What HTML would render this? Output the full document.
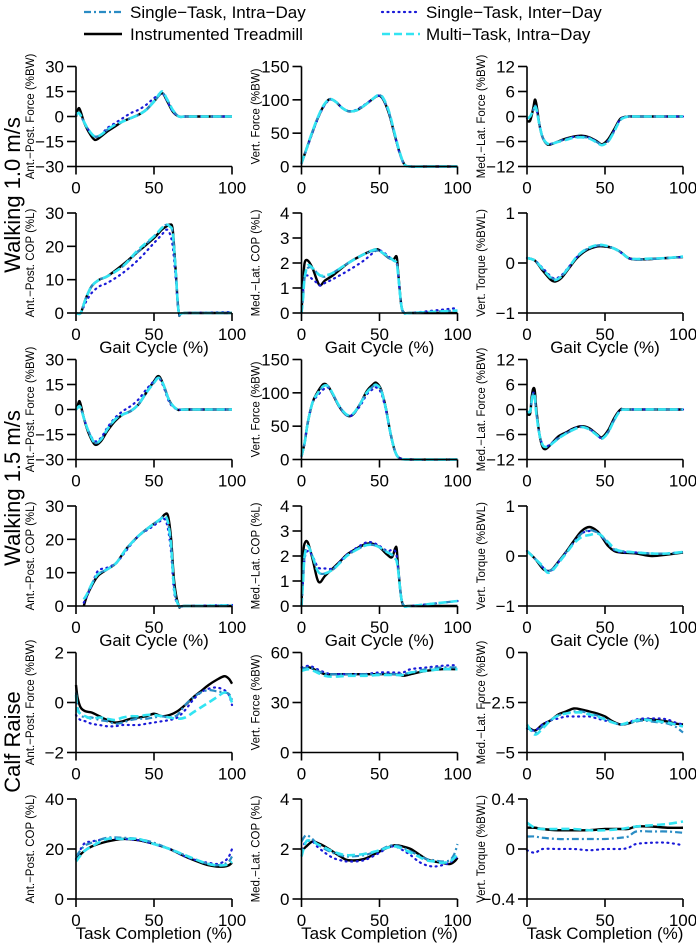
<!DOCTYPE html>
<html><head><meta charset="utf-8"><style>
html,body{margin:0;padding:0;background:#fff}
svg{display:block;font-family:"Liberation Sans",Arial,sans-serif}
</style></head><body>
<svg id="fig" width="696" height="943" viewBox="0 0 696 943" xmlns="http://www.w3.org/2000/svg">
<g>
 <g>
  <line x1="84" y1="12" x2="122" y2="12" stroke="#2a8cc4" stroke-width="2.2" stroke-dasharray="7 3 2 3"/>
  <text x="130" y="18" font-size="17">Single−Task, Intra−Day</text></g>
 <g>
  <line x1="84" y1="34" x2="122" y2="34" stroke="#000" stroke-width="2.4"/>
  <text x="130" y="40" font-size="17">Instrumented Treadmill</text></g>
 <g>
  <line x1="382" y1="12" x2="420" y2="12" stroke="#1a1ad8" stroke-width="2.2" stroke-dasharray="1 4.5" stroke-linecap="round"/>
  <text x="426" y="18" font-size="17">Single−Task, Inter−Day</text></g>
 <g>
  <line x1="382" y1="34" x2="420" y2="34" stroke="#33e4f2" stroke-width="2.6" stroke-dasharray="8 4"/>
  <text x="426" y="40" font-size="17">Multi−Task, Intra−Day</text></g>
</g>
<text transform="translate(20,195) rotate(-90)" text-anchor="middle" font-size="22">Walking 1.0 m/s</text>
<text transform="translate(20,488) rotate(-90)" text-anchor="middle" font-size="22">Walking 1.5 m/s</text>
<text transform="translate(20,742) rotate(-90)" text-anchor="middle" font-size="22">Calf Raise</text>
</svg>
<script>
// ---- Panel data (x in %, y in panel units) ----
const p1_x=[0,2,5,8,12,16,20,25,30,35,40,45,50,55,58,62,66,70,80,90,100];
const p1_tm=[0,5,-3,-9,-14,-12,-9,-6,-3,-1,1,4,9,14,10,3,0,0,0,0,0];
const p1_sti=[1,2,-3,-8,-12,-11,-8,-5,-3,-1,1,4,9,14,11,4,0,0,0,0,0];
const p1_ste=[1,2,-3,-8,-12,-11,-7,-4,-1,2,4,7,11,14,10,3,0,0,0,0,0];
const p1_mt=[1,2,-3,-8,-12,-11,-8,-5,-3,-1,1,4,9,15,11,4,0,0,0,0,0];

const p2_x=[0,3,6,10,14,18,22,26,30,35,40,45,49,52,56,60,63,66,70,80,100];
const p2_tm=[5,25,45,70,90,101,97,88,83,84,91,100,106,102,80,45,20,3,0,0,0];
const p2_sti=[5,25,46,71,91,101,97,88,83,84,91,100,107,103,82,46,20,3,0,0,0];
const p2_ste=[5,24,44,69,89,100,97,88,83,85,92,100,106,102,80,45,19,3,0,0,0];
const p2_mt=[5,25,46,71,91,101,97,88,83,84,91,100,107,104,83,47,21,3,0,0,0];

const p3_x=[0,2,4,5,6,8,10,13,16,20,25,30,35,40,45,48,52,56,60,65,70,100];
const p3_tm=[-1,-1,2,4,3,-2,-5,-6.7,-6.6,-6,-5.3,-4.8,-4.6,-5,-6,-6.7,-5.5,-3,-0.5,0,0,0];
const p3_sti=[-0.5,0,1.5,2.5,2,-2,-5,-6.5,-6.5,-6,-5.5,-5,-4.9,-5.2,-6.2,-6.8,-6,-3.5,-0.8,0,0,0];
const p3_ste=[-0.5,0,1.5,2.5,2,-2,-5,-6.6,-6.5,-6,-5.4,-4.9,-4.8,-5.1,-6.1,-6.8,-5.8,-3.3,-0.6,0,0,0];
const p3_mt=[-0.5,0,1.5,2.2,1.8,-2,-5,-6.5,-6.5,-6.1,-5.6,-5.1,-5,-5.3,-6.3,-6.9,-6,-3.5,-0.8,0,0,0];

const p4_x=[0,3,6,10,15,20,30,40,50,55,58,60,62,64,66,70,100];
const p4_tm=[0,0,4,8,10,11,14.5,18.5,22.5,25,26,26.5,25,12,0,0,0];
const p4_sti=[0,0,4,8,10,11,14,18.5,23,25.5,26.5,26,24,12,0,0,0];
const p4_ste=[0,0,3,6,8,9,12,16,21,23.5,25,24,20,10,0,0,0.3];
const p4_mt=[0,0,4,8,10,11,14,19,23,25.5,26.5,26,24,12,0,0,0];

const p5_x=[0,1,2,4,7,10,12,15,20,30,40,48,52,56,59,61,62,64,66,70,100];
const p5_tm=[0,1.2,2,2.1,1.8,1.3,1.1,1.3,1.5,2.0,2.35,2.55,2.4,2.2,2.15,2.25,1.6,0.3,0,0,0];
const p5_sti=[0,0.6,1.4,1.8,1.8,1.6,1.5,1.45,1.6,2.0,2.35,2.5,2.4,2.2,2.1,2.0,1.5,0.3,0,0,0.1];
const p5_ste=[0,0.8,1.4,1.5,1.35,1.2,1.1,1.2,1.35,1.7,2.1,2.5,2.45,2.25,2.1,2.0,1.5,0.3,0,0,0.2];
const p5_mt=[0,0.6,1.4,1.9,1.8,1.6,1.5,1.5,1.6,2.0,2.35,2.55,2.4,2.25,2.1,2.0,1.5,0.3,0,0,0.1];

const p6_x=[0,5,10,15,18,22,27,32,38,45,50,55,60,65,70,80,90,100];
const p6_tm=[0.1,0.05,-0.15,-0.33,-0.37,-0.3,-0.1,0.1,0.25,0.33,0.33,0.3,0.22,0.1,0.07,0.08,0.1,0.12];
const p6_sti=[0.1,0.05,-0.12,-0.28,-0.33,-0.27,-0.08,0.12,0.27,0.35,0.35,0.3,0.22,0.1,0.07,0.08,0.1,0.12];
const p6_ste=[0.1,0.05,-0.1,-0.26,-0.31,-0.25,-0.07,0.12,0.27,0.34,0.34,0.3,0.21,0.1,0.07,0.08,0.1,0.12];
const p6_mt=[0.1,0.05,-0.12,-0.29,-0.34,-0.27,-0.08,0.13,0.28,0.36,0.35,0.3,0.22,0.1,0.08,0.09,0.1,0.13];

const p7_x=[0,1,2,3,5,8,12,16,20,25,30,35,40,45,50,53,56,60,65,70,100];
const p7_tm=[0,2,5,3,-5,-14,-21,-19,-13,-7,-3,-1,3,10,17,20,15,5,0,0,0];
const p7_sti=[0,1,2,1,-5,-13,-20,-18,-12,-6,-3,-1,3,10,16,19,15,5,0,0,0];
const p7_ste=[0,1,2,1,-5,-13,-19,-17,-11,-5,-1,2,6,12,17,19,14,4,0,0,0];
const p7_mt=[0,1,2,1,-5,-13,-20,-18,-12,-6,-3,-1,3,10,16,19,15,5,0,0,0];

const p8_x=[0,2,4,7,10,14,17,20,24,28,31,34,38,42,46,48,51,54,57,60,63,70,100];
const p8_tm=[5,25,55,85,100,113,110,98,80,68,65,70,85,103,113,115,105,78,40,12,2,0,0];
const p8_sti=[5,25,55,85,98,110,110,99,81,69,66,71,85,101,110,112,104,77,40,12,2,0,0];
const p8_ste=[5,25,55,85,95,105,108,98,80,68,65,70,82,98,106,108,100,75,38,12,2,0,0];
const p8_mt=[5,25,55,85,98,110,110,99,81,69,66,71,85,101,110,112,104,77,40,12,2,0,0];

const p9_x=[0,2,3,4,5,6,8,10,12,15,20,25,30,35,40,45,48,52,56,60,65,100];
const p9_tm=[-1,-1,3,5,4.5,0,-6,-9,-9.5,-8.5,-6.5,-5.5,-4.5,-4,-4.5,-6,-6.7,-5,-2,0,0,0];
const p9_sti=[-0.5,-0.5,2,4,3,-1,-6,-8.5,-9,-8.5,-7,-5.8,-4.8,-4.2,-4.8,-6.2,-7,-5.5,-2.5,-0.3,0,0];
const p9_ste=[-0.5,-0.5,2,4,3,-1,-6,-8.5,-9,-8.3,-6.8,-5.6,-4.6,-4.1,-4.7,-6.1,-6.9,-5.3,-2.3,-0.2,0,0];
const p9_mt=[-0.5,-0.5,2,3.8,3,-1,-6,-8.5,-9,-8.5,-7,-5.8,-4.8,-4.2,-4.8,-6.2,-7,-5.5,-2.5,-0.3,0,0];

const p10_x=[5,7,10,14,20,26,32,40,48,54,57,59,61,63,66,70,100];
const p10_tm=[0,3,6,9,11,13,17,21,24,26,27.5,27,20,7,0,0,0];
const p10_sti=[2,3.5,6.5,9.5,11,13,17,21,24,26,27,25,18,5,0,0,0.2];
const p10_ste=[1,3,6,10.5,11.5,13,16.5,21,23.5,25.5,26,23,16,4,0,0,0.3];
const p10_mt=[2,3.5,6.5,9.5,11,13,17,21,24,26,27,25,18,5,0,0,0.2];

const p11_x=[0,1,2,4,7,10,12,15,20,25,30,40,45,50,55,58,60,61,62,64,66,70,100];
const p11_tm=[0,2,2.5,2.55,1.9,1.1,0.95,1.2,1.5,1.8,2.1,2.45,2.5,2.35,2.05,1.95,2.3,2.3,1.5,0.3,0,0,0];
const p11_sti=[0,1,2.0,2.4,2.0,1.45,1.3,1.3,1.45,1.75,2.05,2.4,2.45,2.35,2.15,2.05,1.9,1.8,1.4,0.3,0,0,0.2];
const p11_ste=[0,1,1.9,2.2,2.0,1.6,1.5,1.5,1.5,1.8,2.1,2.5,2.55,2.4,2.2,2.25,2.2,2.0,1.5,0.3,0,0,0.2];
const p11_mt=[0,1,2.0,2.4,2.0,1.45,1.3,1.3,1.45,1.75,2.05,2.4,2.45,2.35,2.15,2.05,1.9,1.8,1.4,0.3,0,0,0.2];

const p12_x=[0,5,10,13,16,20,25,30,35,40,45,48,52,56,60,70,80,90,100];
const p12_tm=[0.1,-0.05,-0.25,-0.3,-0.27,-0.12,0.08,0.3,0.5,0.58,0.5,0.38,0.2,0.1,0.07,0.05,0.0,0.03,0.07];
const p12_sti=[0.1,-0.05,-0.22,-0.3,-0.27,-0.13,0.07,0.27,0.45,0.52,0.47,0.4,0.25,0.13,0.1,0.07,0.05,0.05,0.08];
const p12_ste=[0.1,-0.05,-0.22,-0.3,-0.28,-0.13,0.07,0.27,0.45,0.5,0.48,0.38,0.25,0.12,0.08,0.07,0.05,0.05,0.08];
const p12_mt=[0.1,-0.05,-0.2,-0.33,-0.3,-0.15,0.05,0.25,0.38,0.42,0.45,0.4,0.28,0.15,0.1,0.07,0.05,0.05,0.08];

const p13_x=[0,1,3,6,10,15,20,25,30,35,40,45,50,55,60,65,70,75,80,85,90,95,98,100];
const p13_tm=[0.7,0.2,-0.2,-0.35,-0.4,-0.55,-0.7,-0.8,-0.75,-0.65,-0.6,-0.55,-0.45,-0.55,-0.5,-0.35,-0.1,0.2,0.45,0.7,0.9,1.05,0.95,0.75];
const p13_sti=[0.4,-0.2,-0.5,-0.6,-0.6,-0.7,-0.75,-0.85,-0.8,-0.7,-0.65,-0.65,-0.6,-0.55,-0.6,-0.5,-0.1,0.2,0.4,0.5,0.45,0.4,0.35,0.1];
const p13_ste=[-0.5,-0.6,-0.7,-0.75,-0.85,-0.9,-0.95,-0.95,-0.9,-0.9,-0.9,-0.85,-0.8,-0.75,-0.7,-0.6,-0.3,0.1,0.4,0.55,0.6,0.5,0.3,-0.1];
const p13_mt=[0.3,-0.3,-0.45,-0.55,-0.65,-0.6,-0.65,-0.7,-0.6,-0.55,-0.55,-0.5,-0.5,-0.55,-0.6,-0.65,-0.6,-0.4,-0.2,0,0.2,0.4,0.3,0.0];

const p14_x=[0,5,10,15,20,30,40,50,60,65,70,80,90,100];
const p14_tm=[50,51,49,47,47,47,47,47,47,46,47,49,50,50];
const p14_sti=[50,51,49,47.5,47,47,47,47,47,47,48,50,51,51];
const p14_ste=[51,52,50,48,47,47,47,48,48,48,50,51,52,52.5];
const p14_mt=[49,50,48,46,45.5,46,46,46.5,46.5,46.5,48,49,50,50];

const p15_x=[0,5,10,15,20,25,30,35,40,45,50,55,60,65,70,75,80,85,90,95,100];
const p15_tm=[-3.7,-3.9,-3.6,-3.4,-3.1,-2.95,-2.8,-2.85,-2.95,-3.05,-3.2,-3.45,-3.6,-3.55,-3.4,-3.35,-3.35,-3.4,-3.45,-3.55,-3.6];
const p15_sti=[-3.7,-4.0,-3.7,-3.4,-3.15,-3.05,-2.95,-2.95,-3.05,-3.15,-3.3,-3.5,-3.6,-3.55,-3.45,-3.4,-3.45,-3.5,-3.55,-3.7,-4.0];
const p15_ste=[-3.8,-3.9,-3.6,-3.4,-3.3,-3.2,-3.2,-3.2,-3.2,-3.3,-3.4,-3.5,-3.6,-3.5,-3.35,-3.3,-3.3,-3.3,-3.35,-3.5,-3.6];
const p15_mt=[-3.6,-4.1,-3.8,-3.4,-3.15,-3.05,-3.0,-3.0,-3.1,-3.2,-3.35,-3.5,-3.6,-3.5,-3.4,-3.35,-3.4,-3.45,-3.5,-3.6,-3.7];

const p16_x=[0,5,10,20,30,40,50,60,70,80,85,90,95,98,100];
const p16_tm=[16,19,21,23,24,23.5,22,20,17,14.5,13.5,13,13,13.5,14.5];
const p16_sti=[17,21,22.5,24.5,24.5,24,22.5,20,17.5,15,14,13.5,14,15,17];
const p16_ste=[16,22,23,24,24,23.5,22,20,17,15,14.5,14,15,17,20];
const p16_mt=[15,19,21,24,24,24,22,20,17.5,15,14,13.5,13.5,14,15];

const p17_x=[0,3,7,10,15,20,25,30,40,50,55,60,65,70,75,80,85,90,95,98,100];
const p17_tm=[1.9,2.1,2.3,2.25,2.1,1.9,1.7,1.55,1.6,1.9,2.05,2.15,2.1,2.0,1.8,1.6,1.5,1.45,1.4,1.5,1.65];
const p17_sti=[2.3,2.55,2.4,2.2,2.0,1.85,1.75,1.7,1.75,1.95,2.1,2.15,2.05,1.9,1.75,1.6,1.55,1.5,1.55,1.8,2.2];
const p17_ste=[2.0,2.3,2.3,2.1,1.85,1.65,1.55,1.5,1.55,1.85,2.05,2.1,1.95,1.75,1.5,1.35,1.3,1.35,1.45,1.6,1.7];
const p17_mt=[1.7,2.3,2.3,2.2,2.05,1.9,1.8,1.75,1.8,1.95,2.05,2.1,2.0,1.85,1.7,1.55,1.5,1.45,1.5,1.65,1.8];

const p18_x=[0,5,10,20,30,40,50,60,65,70,80,90,100];
const p18_tm=[0.17,0.17,0.16,0.15,0.15,0.15,0.16,0.16,0.16,0.18,0.18,0.17,0.17];
const p18_sti=[0.1,0.1,0.09,0.08,0.08,0.08,0.08,0.09,0.1,0.14,0.14,0.14,0.13];
const p18_ste=[-0.01,-0.03,0,0,0,-0.01,0,0,0.01,0.04,0.05,0.05,0.03];
const p18_mt=[0.21,0.17,0.16,0.16,0.16,0.15,0.15,0.16,0.17,0.18,0.19,0.2,0.22];

// tick labels
const ticksAPF=[-30,-15,0,15,30];
const ticksVF=[0,50,100,150];
const ticksMLF=[-12,-6,0,6,12];
const ticksAPC=[0,10,20,30];
const ticksMLC=[0,1,2,3,4];
const ticksVT=[-1,0,1];
const ticksCRAPF=[-2,0,2];
const ticksCRVF=[0,30,60];
const ticksCRMLF=[-5,-2.5,0];
const ticksCRAPC=[0,20,40];
const ticksCRMLC=[0,2,4];
const ticksCRVT=[-0.4,0,0.4];
const xTicks=[0,50,100];

const panels=[
 {n:'walk10-ap-force',t:'Ant.−Post. Force (%BW)',yt:ticksAPF,x:p1_x,s:[p1_tm,p1_sti,p1_ste,p1_mt]},
 {n:'walk10-vert-force',t:'Vert. Force (%BW)',yt:ticksVF,x:p2_x,s:[p2_tm,p2_sti,p2_ste,p2_mt]},
 {n:'walk10-ml-force',t:'Med.−Lat. Force (%BW)',yt:ticksMLF,x:p3_x,s:[p3_tm,p3_sti,p3_ste,p3_mt]},
 {n:'walk10-ap-cop',t:'Ant.−Post. COP (%L)',yt:ticksAPC,x:p4_x,s:[p4_tm,p4_sti,p4_ste,p4_mt],xl:'Gait Cycle (%)'},
 {n:'walk10-ml-cop',t:'Med.−Lat. COP (%L)',yt:ticksMLC,x:p5_x,s:[p5_tm,p5_sti,p5_ste,p5_mt],xl:'Gait Cycle (%)'},
 {n:'walk10-vert-torque',t:'Vert. Torque (%BWL)',yt:ticksVT,x:p6_x,s:[p6_tm,p6_sti,p6_ste,p6_mt],xl:'Gait Cycle (%)'},
 {n:'walk15-ap-force',t:'Ant.−Post. Force (%BW)',yt:ticksAPF,x:p7_x,s:[p7_tm,p7_sti,p7_ste,p7_mt]},
 {n:'walk15-vert-force',t:'Vert. Force (%BW)',yt:ticksVF,x:p8_x,s:[p8_tm,p8_sti,p8_ste,p8_mt]},
 {n:'walk15-ml-force',t:'Med.−Lat. Force (%BW)',yt:ticksMLF,x:p9_x,s:[p9_tm,p9_sti,p9_ste,p9_mt]},
 {n:'walk15-ap-cop',t:'Ant.−Post. COP (%L)',yt:ticksAPC,x:p10_x,s:[p10_tm,p10_sti,p10_ste,p10_mt],xl:'Gait Cycle (%)'},
 {n:'walk15-ml-cop',t:'Med.−Lat. COP (%L)',yt:ticksMLC,x:p11_x,s:[p11_tm,p11_sti,p11_ste,p11_mt],xl:'Gait Cycle (%)'},
 {n:'walk15-vert-torque',t:'Vert. Torque (%BWL)',yt:ticksVT,x:p12_x,s:[p12_tm,p12_sti,p12_ste,p12_mt],xl:'Gait Cycle (%)'},
 {n:'calf-ap-force',t:'Ant.−Post. Force (%BW)',yt:ticksCRAPF,x:p13_x,s:[p13_tm,p13_sti,p13_ste,p13_mt]},
 {n:'calf-vert-force',t:'Vert. Force (%BW)',yt:ticksCRVF,x:p14_x,s:[p14_tm,p14_sti,p14_ste,p14_mt]},
 {n:'calf-ml-force',t:'Med.−Lat. Force (%BW)',yt:ticksCRMLF,x:p15_x,s:[p15_tm,p15_sti,p15_ste,p15_mt]},
 {n:'calf-ap-cop',t:'Ant.−Post. COP (%L)',yt:ticksCRAPC,x:p16_x,s:[p16_tm,p16_sti,p16_ste,p16_mt],xl:'Task Completion (%)'},
 {n:'calf-ml-cop',t:'Med.−Lat. COP (%L)',yt:ticksCRMLC,x:p17_x,s:[p17_tm,p17_sti,p17_ste,p17_mt],xl:'Task Completion (%)'},
 {n:'calf-vert-torque',t:'Vert. Torque (%BWL)',yt:ticksCRVT,x:p18_x,s:[p18_tm,p18_sti,p18_ste,p18_mt],xl:'Task Completion (%)'}
];
const seriesNames=['instrumented-treadmill','single-task-intra-day','single-task-inter-day','multi-task-intra-day'];
const styles=[
 {c:'#000',w:2.4,d:null,cap:'butt'},
 {c:'#2a8cc4',w:2.2,d:'7 3 2 3',cap:'butt'},
 {c:'#1a1ad8',w:2.2,d:'1 4.5',cap:'round'},
 {c:'#33e4f2',w:2.6,d:'8 4',cap:'butt'}
];
const drawOrder=[0,2,1,3];
const NS='http://www.w3.org/2000/svg';
const svg=document.getElementById('fig');
const colX=[76,301.5,527], W=156, H=100, row0=66.5, rowStep=146.5;
function mk(tag,attrs,parent){const e=document.createElementNS(NS,tag);for(const k in attrs)e.setAttribute(k,attrs[k]);parent.appendChild(e);return e;}
function fmt(v){return (v<0?'−':'')+Math.abs(v);}
function smooth(pts){
 let d='M'+pts[0][0].toFixed(2)+','+pts[0][1].toFixed(2);
 for(let i=0;i<pts.length-1;i++){
  const p0=pts[Math.max(0,i-1)],p1=pts[i],p2=pts[i+1],p3=pts[Math.min(pts.length-1,i+2)];
  const k=0.16;
  const c1=[p1[0]+(p2[0]-p0[0])*k,p1[1]+(p2[1]-p0[1])*k];
  const c2=[p2[0]-(p3[0]-p1[0])*k,p2[1]-(p3[1]-p1[1])*k];
  d+='C'+c1[0].toFixed(2)+','+c1[1].toFixed(2)+' '+c2[0].toFixed(2)+','+c2[1].toFixed(2)+' '+p2[0].toFixed(2)+','+p2[1].toFixed(2);
 }
 return d;
}
panels.forEach((p,i)=>{
 const col=i%3,row=Math.floor(i/3);
 const x0=colX[col], top=row0+row*rowStep, bot=top+H;
 const ymin=p.yt[0], ymax=p.yt[p.yt.length-1];
 const sx=v=>x0+v/100*W;
 const sy=v=>bot-(v-ymin)/(ymax-ymin)*H;
 const g=mk('g',{},svg);
 
 
 // series
 drawOrder.forEach(si=>{
  const st=styles[si];
  const pts=p.x.map((xv,j)=>[sx(xv),sy(p.s[si][j])]);
  const a={d:smooth(pts),fill:'none',stroke:st.c,'stroke-width':st.w,'stroke-linecap':st.cap,'stroke-linejoin':'round'};
  if(st.d)a['stroke-dasharray']=st.d;
  const path=mk('path',a,g);
  
  
 });
 // axes
 const ya=mk('line',{x1:x0,y1:top,x2:x0,y2:bot,stroke:'#000','stroke-width':1.6},g);
 
 
 const xa=mk('line',{x1:x0,y1:bot,x2:x0+W,y2:bot,stroke:'#000','stroke-width':1.6},g);
 
 
 p.yt.forEach(v=>{
  const y=sy(v);
  mk('line',{x1:x0-9,y1:y,x2:x0,y2:y,stroke:'#000','stroke-width':1.6},g);
  const t=mk('text',{x:x0-12,y:y+6,'text-anchor':'end','font-size':17},g);
  t.textContent=fmt(v);
  
  
 });
 xTicks.forEach(v=>{
  const x=sx(v);
  mk('line',{x1:x,y1:bot,x2:x,y2:bot+8,stroke:'#000','stroke-width':1.6},g);
  const t=mk('text',{x:x,y:bot+27,'text-anchor':'middle','font-size':17},g);
  t.textContent=v;
  
  
 });
 const yt=mk('text',{transform:'translate('+(x0-42)+','+(top+H/2)+') rotate(-90)','text-anchor':'middle','font-size':11.5},g);
 yt.textContent=p.t;
 
 
 if(p.xl){
  const xt=mk('text',{x:x0+W/2,y:bot+40,'text-anchor':'middle','font-size':17},g);
  xt.textContent=p.xl;
  
  
 }
});
</script>
</body></html>
